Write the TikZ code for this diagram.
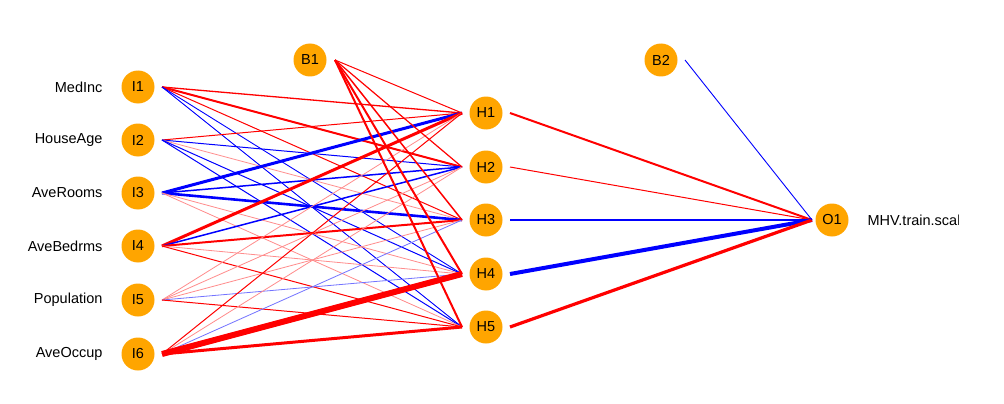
\documentclass[tikz,border=0pt]{standalone}
\usepackage{fontspec}
\setmainfont{Liberation Sans}
\definecolor{nodeor}{RGB}{255,165,0}
\begin{document}
\begin{tikzpicture}[x=1pt,y=-1pt,
  nn/.style={circle,fill=nodeor,minimum size=33pt,inner sep=0pt,font=\fontsize{14.5}{14.5}\selectfont},
  lab/.style={font=\fontsize{14.5}{14.5}\selectfont,anchor=east},
  pos/.style={draw=red,line width=#1},
  neg/.style={draw=blue,line width=#1},
  lpos/.style={draw=red!45,line width=#1},
  lneg/.style={draw=blue!55,line width=#1}]
\useasboundingbox (0,0) rectangle (1004,404);
\fill[white] (0,0) rectangle (1004,404);
\foreach \n/\y in {1/87,2/140,3/193,4/246,5/300,6/354}{
  \coordinate (ie\n) at (162,\y);}
\foreach \n/\y in {1/113,2/167,3/220,4/274,5/327}{
  \coordinate (he\n) at (462,\y);
  \coordinate (ho\n) at (510,\y);}
\coordinate (b1e) at (335,60);
\coordinate (b2e) at (685,60);
\coordinate (oe) at (812,220);
% I1
\draw[pos=1.3] (ie1)--(he1); \draw[pos=2] (ie1)--(he2); \draw[pos=1] (ie1)--(he3);
\draw[neg=0.9] (ie1)--(he4); \draw[neg=0.9] (ie1)--(he5);
% I2
\draw[pos=1] (ie2)--(he1); \draw[neg=1] (ie2)--(he2); \draw[lpos=0.8] (ie2)--(he3);
\draw[neg=1] (ie2)--(he4); \draw[neg=1] (ie2)--(he5);
% I3
\draw[neg=3] (ie3)--(he1); \draw[neg=1.5] (ie3)--(he2); \draw[neg=2.6] (ie3)--(he3);
\draw[lpos=0.8] (ie3)--(he4); \draw[lpos=0.8] (ie3)--(he5);
% I4
\draw[pos=3] (ie4)--(he1); \draw[neg=1.5] (ie4)--(he2); \draw[pos=2] (ie4)--(he3);
\draw[lpos=0.8] (ie4)--(he4); \draw[pos=1] (ie4)--(he5);
% I5
\draw[lpos=0.8] (ie5)--(he1); \draw[lpos=0.8] (ie5)--(he2); \draw[lpos=0.8] (ie5)--(he3);
\draw[lneg=0.8] (ie5)--(he4); \draw[pos=1] (ie5)--(he5);
% I6
\draw[pos=1] (ie6)--(he1); \draw[lpos=0.8] (ie6)--(he2); \draw[lneg=0.8] (ie6)--(he3);
\draw[pos=6] (ie6)--(he4); \draw[pos=3] (ie6)--(he5);
% B1
\draw[pos=1] (b1e)--(he1); \draw[pos=1.2] (b1e)--(he2); \draw[pos=1.5] (b1e)--(he3);
\draw[pos=2] (b1e)--(he4); \draw[pos=2] (b1e)--(he5);
% hidden to output
\draw[pos=2] (ho1)--(oe); \draw[pos=1] (ho2)--(oe); \draw[neg=2] (ho3)--(oe);
\draw[neg=4] (ho4)--(oe); \draw[pos=3.2] (ho5)--(oe);
\draw[neg=0.9] (b2e)--(oe);
% nodes
\foreach \n/\y/\t in {1/87/MedInc,2/140/HouseAge,3/193/AveRooms,4/246/AveBedrms,5/300/Population,6/354/AveOccup}{
  \node[nn] (I\n) at (138,\y) {I\n};
  \node[lab] (L\n) at (106,\y) {\t};}
\foreach \n/\y in {1/113,2/167,3/220,4/274,5/327}{
  \node[nn] (H\n) at (486,\y) {H\n};}
\node[nn] (B1) at (310,60) {B1};
\node[nn] (B2) at (661,60) {B2};
\node[nn] (O1) at (832,220) {O1};
\begin{scope}
\clip (860,200) rectangle (958,240);
\node[font=\fontsize{14.5}{14.5}\selectfont,anchor=west] (OL) at (864,220) {MHV.train.scaled};
\end{scope}
\end{tikzpicture}
\end{document}
